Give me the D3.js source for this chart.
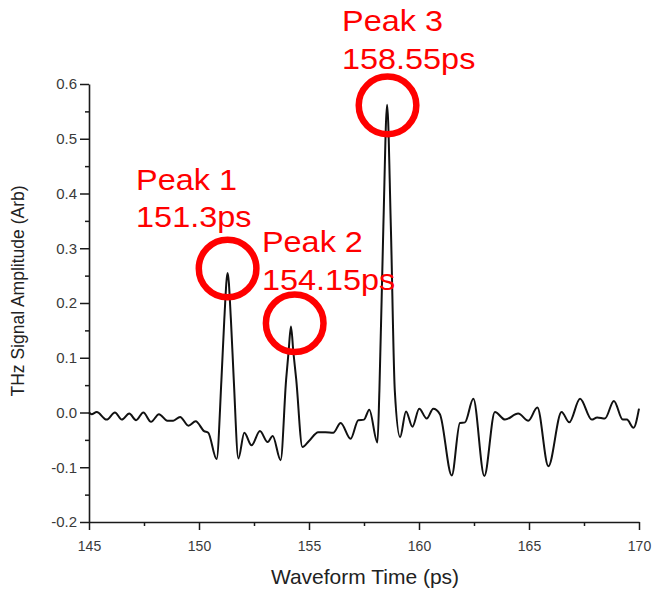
<!DOCTYPE html>
<html>
<head>
<meta charset="utf-8">
<script src="https://cdn.jsdelivr.net/npm/d3@7"></script>
<style>
  html, body { margin: 0; padding: 0; background: #fff; }
  svg { display: block; font-family: "Liberation Sans", Arial, sans-serif; }
</style>
</head>
<body>
<svg id="chart" width="653" height="589"></svg>
<script>
// ---- data ----
const times = [145.0, 145.12, 145.35, 145.8, 146.18, 146.49, 146.83, 147.14, 147.47, 147.82,
  148.18, 148.56, 148.83, 149.14, 149.52, 149.85, 150.23, 150.42, 150.8, 151.02,
  151.15, 151.3, 151.45, 151.58, 151.79, 152.06, 152.39, 152.77, 153.12, 153.35,
  153.71, 153.96, 154.07, 154.18, 154.29, 154.42, 154.7, 155.0, 155.42, 155.75,
  156.1, 156.44, 156.89, 157.24, 157.5, 157.74, 158.11, 158.2, 158.38, 158.55,
  158.72, 158.9, 159.14, 159.41, 159.7, 160.01, 160.35, 160.65, 160.95, 161.49,
  161.86, 162.09, 162.47, 162.97, 163.45, 163.91, 164.51, 164.97, 165.38, 165.88,
  166.48, 166.83, 167.32, 167.85, 168.1, 168.45, 168.86, 169.26, 169.45, 169.75, 170.0];
const amplitudes = [0.0, -0.003, 0.001, -0.013, 0.0, -0.013, -0.002, -0.014, 0.0, -0.017,
  -0.003, -0.015, -0.015, -0.008, -0.024, -0.016, -0.034, -0.037, -0.085, 0.06,
  0.17, 0.255, 0.17, 0.06, -0.084, -0.037, -0.06, -0.034, -0.054, -0.043,
  -0.087, 0.06, 0.11, 0.157, 0.11, 0.06, -0.063, -0.052, -0.036, -0.036,
  -0.037, -0.019, -0.048, -0.014, -0.013, 0.005, -0.055, 0.04, 0.34, 0.562,
  0.34, 0.04, -0.045, 0.002, -0.026, 0.007, -0.011, 0.007, -0.003, -0.115,
  -0.019, -0.018, 0.025, -0.116, 0.001, -0.013, -0.002, -0.015, 0.009, -0.098,
  0.001, -0.018, 0.025, -0.013, -0.009, -0.011, 0.021, -0.013, -0.013, -0.028, 0.007];

const xTicks = [145, 150, 155, 160, 165, 170];
const xMinorTicks = [147.5, 152.5, 157.5, 162.5, 167.5];
const yTicks = [-0.2, -0.1, 0.0, 0.1, 0.2, 0.3, 0.4, 0.5, 0.6];
const yMinorTicks = [-0.15, -0.05, 0.05, 0.15, 0.25, 0.35, 0.45, 0.55];

const peakNames = ["Peak 1", "Peak 2", "Peak 3"];
const peakLabels = ["151.3ps", "154.15ps", "158.55ps"];
const peakTimes = [151.3, 154.35, 158.57];
const peakAmps = [0.263, 0.163, 0.561];

const xTitle = "Waveform Time (ps)";
const yTitle = "THz Signal Amplitude (Arb)";

// ---- layout ----
const svg = d3.select("#chart");
const mLeft = 89, mRight = 639, mTop = 84, mBottom = 522;

const x = d3.scaleLinear().domain([145, 170]).range([mLeft, mRight]);
const y = d3.scaleLinear().domain([-0.2, 0.6]).range([mBottom, mTop]);

const axisColor = "#1a1a1a";

// minor ticks
svg.append("g").attr("transform", `translate(0,${mBottom})`)
  .call(d3.axisBottom(x).tickValues(xMinorTicks).tickSize(4).tickSizeOuter(0).tickFormat(""))
  .call(g => g.select(".domain").remove())
  .call(g => g.selectAll("line").attr("stroke", axisColor).attr("stroke-width", 1.5));
svg.append("g").attr("transform", `translate(${mLeft},0)`)
  .call(d3.axisLeft(y).tickValues(yMinorTicks).tickSize(4).tickSizeOuter(0).tickFormat(""))
  .call(g => g.select(".domain").remove())
  .call(g => g.selectAll("line").attr("stroke", axisColor).attr("stroke-width", 1.5));

// major axes
const gx = svg.append("g").attr("transform", `translate(0,${mBottom})`)
  .call(d3.axisBottom(x).tickValues(xTicks).tickSize(8).tickSizeOuter(0).tickPadding(11)
    .tickFormat(d => String(d)));
const gy = svg.append("g").attr("transform", `translate(${mLeft},0)`)
  .call(d3.axisLeft(y).tickValues(yTicks).tickSize(9).tickSizeOuter(0).tickPadding(3)
    .tickFormat(d => d.toFixed(1)));

[gx, gy].forEach(g => {
  g.select(".domain").attr("stroke", axisColor).attr("stroke-width", 1.6);
  g.selectAll(".tick line").attr("stroke", axisColor).attr("stroke-width", 1.5);
  g.selectAll(".tick text").attr("fill", "#3a3a3a")
    .attr("font-family", "Liberation Sans, Arial, sans-serif");
});
gx.selectAll(".tick text").attr("font-size", 14);
gy.selectAll(".tick text").attr("font-size", 15);

// axis titles
svg.append("text")
  .attr("x", (mLeft + mRight) / 2 + 1).attr("y", 584)
  .attr("text-anchor", "middle").attr("font-size", 21).attr("fill", "#222")
  .text(xTitle);
svg.append("text")
  .attr("transform", `translate(24,291) rotate(-90)`)
  .attr("text-anchor", "middle").attr("font-size", 17.5).attr("fill", "#222")
  .text(yTitle);

// waveform
const line = d3.line().x(d => x(d[0])).y(d => y(d[1])).curve(d3.curveMonotoneX);
svg.append("path")
  .datum(times.map((t, i) => [t, amplitudes[i]]))
  .attr("d", line)
  .attr("fill", "none").attr("stroke", "#111").attr("stroke-width", 2)
  .attr("stroke-linejoin", "round");

// annotations
const red = "#ff0000";
const textOffsets = [[-91.5, -79], [-32.7, -71], [-45.5, -74]];
peakTimes.forEach((t, i) => {
  const cx = x(t), cy = y(peakAmps[i]);
  svg.append("circle")
    .attr("cx", cx).attr("cy", cy).attr("r", 28.8)
    .attr("fill", "none").attr("stroke", red).attr("stroke-width", 6.5);
  const tx = cx + textOffsets[i][0];
  const ty = cy + textOffsets[i][1];
  const g = svg.append("g").attr("transform", `translate(${tx},${ty}) scale(1.08,1)`);
  g.append("text").attr("x", 0).attr("y", 0)
    .attr("font-size", 30).attr("fill", red).text(peakNames[i]);
  g.append("text").attr("x", 0).attr("y", 37.5)
    .attr("font-size", 30).attr("fill", red).text(peakLabels[i]);
});
</script>
</body>
</html>
